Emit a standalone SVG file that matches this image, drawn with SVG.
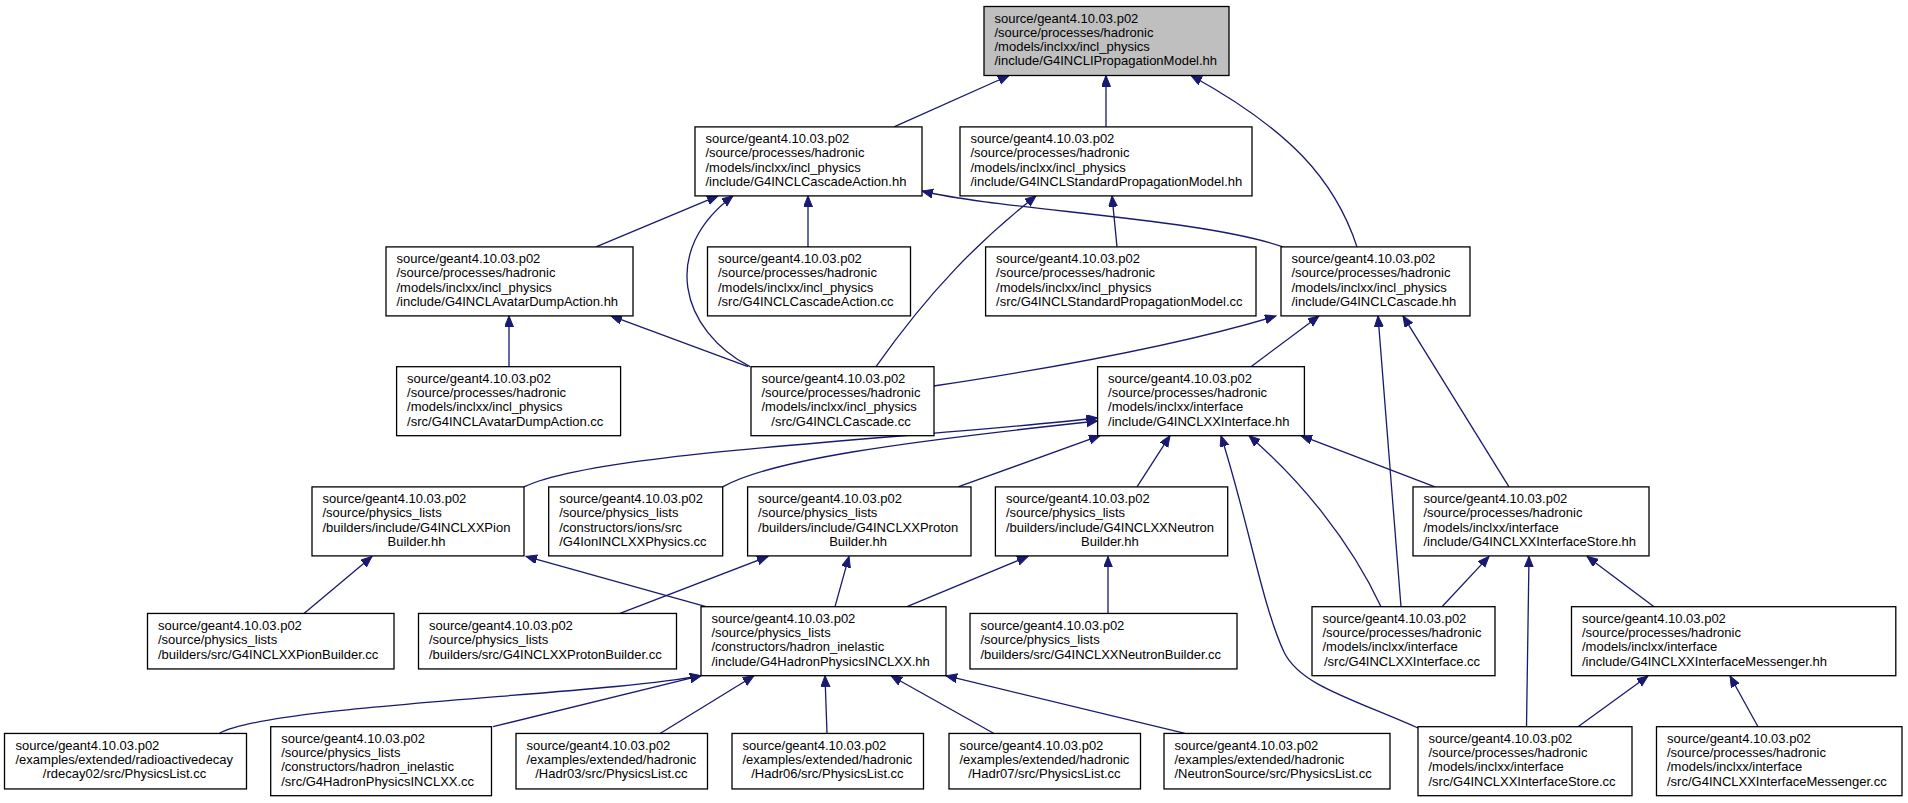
<svg xmlns="http://www.w3.org/2000/svg" width="1908" height="803" viewBox="0 0 1908 803">
<style>
.n rect{fill:#fff;stroke:#000;stroke-width:1.3}
.n text{font-family:"Liberation Sans",Arial,Helvetica,sans-serif;font-size:13px;fill:#000}
.n .c{text-anchor:middle}
#edges path{fill:none;stroke:#191970;stroke-width:1.3;marker-end:url(#ah)}
</style>
<defs>
<marker id="ah" markerUnits="userSpaceOnUse" markerWidth="12" markerHeight="10" refX="11" refY="4.5" orient="auto">
<path d="M0,0 L11,4.5 L0,9 z" fill="#191970" stroke="#191970" stroke-width="1"/>
</marker>
</defs>
<rect width="1908" height="803" fill="#fff"/>
<g id="edges">
<path d="M894,126.9 L1009,75.5"/>
<path d="M1106,126.9 L1106,75.5"/>
<path d="M1357,246.9 C1335,180 1290,130 1191,75.5"/>
<path d="M596,246.9 L718,195.9"/>
<path d="M750,366.7 C680,330 660,250 733,195.9"/>
<path d="M808,246.9 L808,195.9"/>
<path d="M1283,246.9 C1200,218 1000,210 922,191"/>
<path d="M1117,246.9 L1112,195.9"/>
<path d="M876,366.7 C930,290 980,240 1036,195.9"/>
<path d="M509,366.7 L509,315.9"/>
<path d="M748,366.7 L611,315.9"/>
<path d="M933.5,386 C1040,370 1180,345 1276,316"/>
<path d="M1251,366.7 L1319,315.9"/>
<path d="M1401,606.7 L1378,315.9"/>
<path d="M1509,486.9 L1403,315.9"/>
<path d="M524,486.9 C595,452 900,440 1097.6,418"/>
<path d="M722.6,486.9 C770,460 900,442 1097.6,421"/>
<path d="M958,486.9 L1100,435.7"/>
<path d="M1137,486.9 L1170,435.7"/>
<path d="M1381,606.7 C1350,540 1300,480 1249,435.7"/>
<path d="M1418,728 C1350,698 1300,685 1284,652 C1262,605 1248,520 1221,435.7"/>
<path d="M1435,486.9 L1301,435.7"/>
<path d="M706,606.7 L526,556.4"/>
<path d="M835,606.7 L849,556.4"/>
<path d="M907,606.7 L1028,556.4"/>
<path d="M620,613.45 L768,556.4"/>
<path d="M304,613.45 L372,556.4"/>
<path d="M1108,613.45 L1108,556.4"/>
<path d="M219,733.45 C270,705 600,695 701,675.7"/>
<path d="M493,726.7 L701,675.7"/>
<path d="M660,733.45 L754,675.7"/>
<path d="M827,733.45 L825,675.7"/>
<path d="M994,733.45 L891,675.7"/>
<path d="M1185,733.45 L946,675.7"/>
<path d="M1442,606.7 L1489,556.4"/>
<path d="M1526.5,726.7 L1529,556.4"/>
<path d="M1654,606.7 L1587,556.4"/>
<path d="M1578,726.7 L1648,676"/>
<path d="M1758,726.7 L1730,676"/>
</g>
<g id="n1" class="n"><rect x="984" y="6.5" width="245" height="69" style="fill:#bfbfbf"/>
<text><tspan x="994.5" y="22.55">source/geant4.10.03.p02</tspan><tspan x="994.5" y="36.85">/source/processes/hadronic</tspan><tspan x="994.5" y="51.15">/models/inclxx/incl_physics</tspan><tspan x="994.5" y="65.45">/include/G4INCLIPropagationModel.hh</tspan></text></g>
<g id="n2" class="n"><rect x="695" y="126.9" width="227" height="69"/>
<text><tspan x="705.5" y="142.9">source/geant4.10.03.p02</tspan><tspan x="705.5" y="157.2">/source/processes/hadronic</tspan><tspan x="705.5" y="171.5">/models/inclxx/incl_physics</tspan><tspan x="705.5" y="185.8">/include/G4INCLCascadeAction.hh</tspan></text></g>
<g id="n3" class="n"><rect x="960" y="126.9" width="292" height="69"/>
<text><tspan x="970.5" y="142.9">source/geant4.10.03.p02</tspan><tspan x="970.5" y="157.2">/source/processes/hadronic</tspan><tspan x="970.5" y="171.5">/models/inclxx/incl_physics</tspan><tspan x="970.5" y="185.8">/include/G4INCLStandardPropagationModel.hh</tspan></text></g>
<g id="n4" class="n"><rect x="386" y="246.9" width="247" height="69"/>
<text><tspan x="396.5" y="262.9">source/geant4.10.03.p02</tspan><tspan x="396.5" y="277.2">/source/processes/hadronic</tspan><tspan x="396.5" y="291.5">/models/inclxx/incl_physics</tspan><tspan x="396.5" y="305.8">/include/G4INCLAvatarDumpAction.hh</tspan></text></g>
<g id="n5" class="n"><rect x="707.5" y="246.9" width="203" height="69"/>
<text><tspan x="718" y="262.9">source/geant4.10.03.p02</tspan><tspan x="718" y="277.2">/source/processes/hadronic</tspan><tspan x="718" y="291.5">/models/inclxx/incl_physics</tspan><tspan x="718" y="305.8">/src/G4INCLCascadeAction.cc</tspan></text></g>
<g id="n6" class="n"><rect x="985.6" y="246.9" width="270.4" height="69"/>
<text><tspan x="996.1" y="262.9">source/geant4.10.03.p02</tspan><tspan x="996.1" y="277.2">/source/processes/hadronic</tspan><tspan x="996.1" y="291.5">/models/inclxx/incl_physics</tspan><tspan x="996.1" y="305.8">/src/G4INCLStandardPropagationModel.cc</tspan></text></g>
<g id="n7" class="n"><rect x="1281" y="246.9" width="189" height="69"/>
<text><tspan x="1291.5" y="262.9">source/geant4.10.03.p02</tspan><tspan x="1291.5" y="277.2">/source/processes/hadronic</tspan><tspan x="1291.5" y="291.5">/models/inclxx/incl_physics</tspan><tspan x="1291.5" y="305.8">/include/G4INCLCascade.hh</tspan></text></g>
<g id="n8" class="n"><rect x="396.6" y="366.7" width="224" height="69"/>
<text><tspan x="407.1" y="382.75">source/geant4.10.03.p02</tspan><tspan x="407.1" y="397.05">/source/processes/hadronic</tspan><tspan x="407.1" y="411.35">/models/inclxx/incl_physics</tspan><tspan x="407.1" y="425.65">/src/G4INCLAvatarDumpAction.cc</tspan></text></g>
<g id="n9" class="n"><rect x="751" y="366.7" width="183" height="69"/>
<text><tspan x="761.5" y="382.75">source/geant4.10.03.p02</tspan><tspan x="761.5" y="397.05">/source/processes/hadronic</tspan><tspan x="761.5" y="411.35">/models/inclxx/incl_physics</tspan></text><text class="c" x="841" y="425.65">/src/G4INCLCascade.cc</text></g>
<g id="n10" class="n"><rect x="1097.6" y="366.7" width="206.8" height="69"/>
<text><tspan x="1108.1" y="382.75">source/geant4.10.03.p02</tspan><tspan x="1108.1" y="397.05">/source/processes/hadronic</tspan><tspan x="1108.1" y="411.35">/models/inclxx/interface</tspan><tspan x="1108.1" y="425.65">/include/G4INCLXXInterface.hh</tspan></text></g>
<g id="n11" class="n"><rect x="312" y="486.9" width="212" height="69"/>
<text><tspan x="322.5" y="502.9">source/geant4.10.03.p02</tspan><tspan x="322.5" y="517.2">/source/physics_lists</tspan><tspan x="322.5" y="531.5">/builders/include/G4INCLXXPion</tspan></text><text class="c" x="416.5" y="545.8">Builder.hh</text></g>
<g id="n12" class="n"><rect x="548.7" y="486.9" width="174" height="69"/>
<text><tspan x="559.2" y="502.9">source/geant4.10.03.p02</tspan><tspan x="559.2" y="517.2">/source/physics_lists</tspan><tspan x="559.2" y="531.5">/constructors/ions/src</tspan><tspan x="559.2" y="545.8">/G4IonINCLXXPhysics.cc</tspan></text></g>
<g id="n13" class="n"><rect x="747.6" y="486.9" width="223.4" height="69"/>
<text><tspan x="758.1" y="502.9">source/geant4.10.03.p02</tspan><tspan x="758.1" y="517.2">/source/physics_lists</tspan><tspan x="758.1" y="531.5">/builders/include/G4INCLXXProton</tspan></text><text class="c" x="858.1" y="545.8">Builder.hh</text></g>
<g id="n14" class="n"><rect x="995.4" y="486.9" width="232.3" height="69"/>
<text><tspan x="1005.9" y="502.9">source/geant4.10.03.p02</tspan><tspan x="1005.9" y="517.2">/source/physics_lists</tspan><tspan x="1005.9" y="531.5">/builders/include/G4INCLXXNeutron</tspan></text><text class="c" x="1109.9" y="545.8">Builder.hh</text></g>
<g id="n15" class="n"><rect x="1413" y="486.9" width="236" height="69"/>
<text><tspan x="1423.5" y="502.9">source/geant4.10.03.p02</tspan><tspan x="1423.5" y="517.2">/source/processes/hadronic</tspan><tspan x="1423.5" y="531.5">/models/inclxx/interface</tspan><tspan x="1423.5" y="545.8">/include/G4INCLXXInterfaceStore.hh</tspan></text></g>
<g id="n16" class="n"><rect x="147.5" y="613.45" width="246.5" height="55.5"/>
<text><tspan x="158" y="629.9">source/geant4.10.03.p02</tspan><tspan x="158" y="644.2">/source/physics_lists</tspan><tspan x="158" y="658.5">/builders/src/G4INCLXXPionBuilder.cc</tspan></text></g>
<g id="n17" class="n"><rect x="418.5" y="613.45" width="258" height="55.5"/>
<text><tspan x="429" y="629.9">source/geant4.10.03.p02</tspan><tspan x="429" y="644.2">/source/physics_lists</tspan><tspan x="429" y="658.5">/builders/src/G4INCLXXProtonBuilder.cc</tspan></text></g>
<g id="n18" class="n"><rect x="701" y="606.7" width="245" height="69"/>
<text><tspan x="711.5" y="622.75">source/geant4.10.03.p02</tspan><tspan x="711.5" y="637.05">/source/physics_lists</tspan><tspan x="711.5" y="651.35">/constructors/hadron_inelastic</tspan><tspan x="711.5" y="665.65">/include/G4HadronPhysicsINCLXX.hh</tspan></text></g>
<g id="n19" class="n"><rect x="970" y="613.45" width="267" height="55.5"/>
<text><tspan x="980.5" y="629.9">source/geant4.10.03.p02</tspan><tspan x="980.5" y="644.2">/source/physics_lists</tspan><tspan x="980.5" y="658.5">/builders/src/G4INCLXXNeutronBuilder.cc</tspan></text></g>
<g id="n20" class="n"><rect x="1312" y="606.7" width="183" height="69"/>
<text><tspan x="1322.5" y="622.75">source/geant4.10.03.p02</tspan><tspan x="1322.5" y="637.05">/source/processes/hadronic</tspan><tspan x="1322.5" y="651.35">/models/inclxx/interface</tspan></text><text class="c" x="1402" y="665.65">/src/G4INCLXXInterface.cc</text></g>
<g id="n21" class="n"><rect x="1571.5" y="606.7" width="324.3" height="69"/>
<text><tspan x="1582" y="622.75">source/geant4.10.03.p02</tspan><tspan x="1582" y="637.05">/source/processes/hadronic</tspan><tspan x="1582" y="651.35">/models/inclxx/interface</tspan><tspan x="1582" y="665.65">/include/G4INCLXXInterfaceMessenger.hh</tspan></text></g>
<g id="n22" class="n"><rect x="4.5" y="733.45" width="242" height="55.5"/>
<text><tspan x="15.5" y="749.6">source/geant4.10.03.p02</tspan><tspan x="15.5" y="763.9">/examples/extended/radioactivedecay</tspan></text><text class="c" x="124.5" y="778.2">/rdecay02/src/PhysicsList.cc</text></g>
<g id="n23" class="n"><rect x="270.7" y="726.7" width="220.8" height="69"/>
<text><tspan x="281.2" y="742.75">source/geant4.10.03.p02</tspan><tspan x="281.2" y="757.05">/source/physics_lists</tspan><tspan x="281.2" y="771.35">/constructors/hadron_inelastic</tspan><tspan x="281.2" y="785.65">/src/G4HadronPhysicsINCLXX.cc</tspan></text></g>
<g id="n24" class="n"><rect x="516" y="733.45" width="191.5" height="55.5"/>
<text><tspan x="526.5" y="749.6">source/geant4.10.03.p02</tspan><tspan x="526.5" y="763.9">/examples/extended/hadronic</tspan></text><text class="c" x="611.4" y="778.2">/Hadr03/src/PhysicsList.cc</text></g>
<g id="n25" class="n"><rect x="732" y="733.45" width="191.5" height="55.5"/>
<text><tspan x="742.5" y="749.6">source/geant4.10.03.p02</tspan><tspan x="742.5" y="763.9">/examples/extended/hadronic</tspan></text><text class="c" x="827.4" y="778.2">/Hadr06/src/PhysicsList.cc</text></g>
<g id="n26" class="n"><rect x="949" y="733.45" width="191.5" height="55.5"/>
<text><tspan x="959.5" y="749.6">source/geant4.10.03.p02</tspan><tspan x="959.5" y="763.9">/examples/extended/hadronic</tspan></text><text class="c" x="1044.4" y="778.2">/Hadr07/src/PhysicsList.cc</text></g>
<g id="n27" class="n"><rect x="1164" y="733.45" width="226" height="55.5"/>
<text><tspan x="1174.5" y="749.6">source/geant4.10.03.p02</tspan><tspan x="1174.5" y="763.9">/examples/extended/hadronic</tspan><tspan x="1174.5" y="778.2">/NeutronSource/src/PhysicsList.cc</tspan></text></g>
<g id="n28" class="n"><rect x="1418" y="726.7" width="214" height="69"/>
<text><tspan x="1428.5" y="742.75">source/geant4.10.03.p02</tspan><tspan x="1428.5" y="757.05">/source/processes/hadronic</tspan><tspan x="1428.5" y="771.35">/models/inclxx/interface</tspan><tspan x="1428.5" y="785.65">/src/G4INCLXXInterfaceStore.cc</tspan></text></g>
<g id="n29" class="n"><rect x="1656.5" y="726.7" width="245.5" height="69"/>
<text><tspan x="1667" y="742.75">source/geant4.10.03.p02</tspan><tspan x="1667" y="757.05">/source/processes/hadronic</tspan><tspan x="1667" y="771.35">/models/inclxx/interface</tspan><tspan x="1667" y="785.65">/src/G4INCLXXInterfaceMessenger.cc</tspan></text></g>
</svg>
